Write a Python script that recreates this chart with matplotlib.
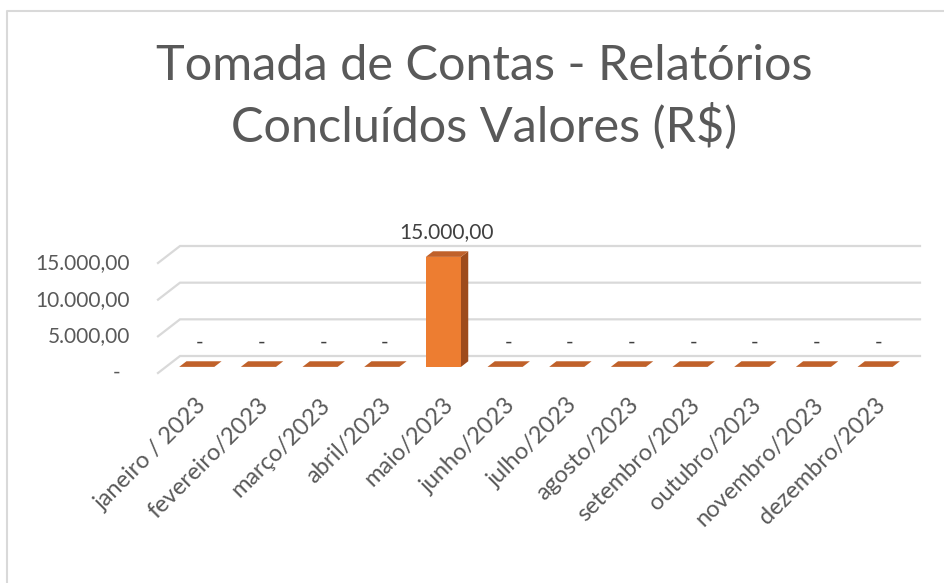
import numpy as np
import matplotlib
matplotlib.use("Agg")
import matplotlib.pyplot as plt
from matplotlib.patches import Polygon
from matplotlib.lines import Line2D

plt.rcParams['font.family'] = ['Lato', 'DejaVu Sans']

meses = ["janeiro / 2023", "fevereiro/2023", "março/2023", "abril/2023", "maio/2023",
         "junho/2023", "julho/2023", "agosto/2023", "setembro/2023", "outubro/2023",
         "novembro/2023", "dezembro/2023"]
valores = [0, 0, 0, 0, 15000, 0, 0, 0, 0, 0, 0, 0]
yticks = [0, 5000, 10000, 15000]
ytick_labels = ["-", "5.000,00", "10.000,00", "15.000,00"]


def fmt(v):
    if v == 0:
        return "-"
    return f"{v:,.2f}".replace(",", "X").replace(".", ",").replace("X", ".")


W, H = 944, 583
fig = plt.figure(figsize=(W / 100, H / 100), dpi=100)
# front plane of the 3d box
ax = fig.add_axes([158 / W, (H - 373) / H, (898 - 158) / W, 110 / H])
ax.set_xlim(-0.5, len(meses) - 0.5)
ax.set_ylim(0, 15000)
ax.axis("off")

DEPTH = np.array([22.0, 17.0])  # px, back wall offset
grey = "#595959"
grid_c = "#d9d9d9"


def proj(x, y, d):
    return ax.transData.transform((x, y)) + d * DEPTH


# gridlines: diagonal on the side wall + line along the back wall
for v in yticks:
    p0 = proj(-0.5, v, 0)
    p1 = proj(-0.5, v, 1)
    p2 = proj(len(meses) - 0.5, v, 1)
    ax.add_artist(Line2D([p0[0], p1[0], p2[0]], [p0[1], p1[1], p2[1]],
                         transform=None, color=grid_c, lw=1.6,
                         solid_joinstyle="miter", clip_on=False))

# bars
bw = 0.57
d0, d1 = 0.36, 0.69
for i, v in enumerate(valores):
    xl, xr = i - bw / 2, i + bw / 2
    if v > 0:
        front = [proj(xl, 0, d0), proj(xr, 0, d0), proj(xr, v, d0), proj(xl, v, d0)]
        side = [proj(xr, 0, d0), proj(xr, 0, d1), proj(xr, v, d1), proj(xr, v, d0)]
        ax.add_artist(Polygon(front, closed=True, transform=None, fc="#ED7D31",
                              ec="none", clip_on=False, zorder=3))
        ax.add_artist(Polygon(side, closed=True, transform=None, fc="#9E4B1C",
                              ec="none", clip_on=False, zorder=3))
    top = [proj(xl, v, d0), proj(xr, v, d0), proj(xr, v, d1), proj(xl, v, d1)]
    ax.add_artist(Polygon(top, closed=True, transform=None, fc="#C0612A",
                          ec="none", clip_on=False, zorder=3))
    # data label
    ax.annotate(fmt(v), xy=(i, v), xytext=(DEPTH[0] * 0.5, DEPTH[1] * 0.5 + 22),
                textcoords="offset pixels", ha="center", va="center",
                fontsize=15, color="#404040", annotation_clip=False)
    # category label
    ax.annotate(meses[i], xy=(i, 0), xytext=(7, -21), textcoords="offset pixels",
                ha="right", va="top", rotation=45, rotation_mode="anchor",
                fontsize=17, color=grey, annotation_clip=False)

# value axis labels
for v, lab in zip(yticks, ytick_labels):
    off = -38 if lab == "-" else -28
    ax.annotate(lab, xy=(-0.5, v), xytext=(off, 0), textcoords="offset pixels",
                ha="right", va="center", fontsize=15, color=grey,
                annotation_clip=False)

fig.text(484 / W, 1 - 44 / H, "Tomada de Contas - Relatórios\nConcluídos Valores (R$)",
         ha="center", va="top", fontsize=35, color=grey,
         linespacing=1.38)

# chart area border (cropped on right/bottom)
fig.add_artist(Line2D([7 / W, 7 / W, 1.0], [0.0, 1 - 11 / H, 1 - 11 / H],
                      transform=fig.transFigure, color=grid_c, lw=1.5))

fig.savefig("out.png", dpi=100)
